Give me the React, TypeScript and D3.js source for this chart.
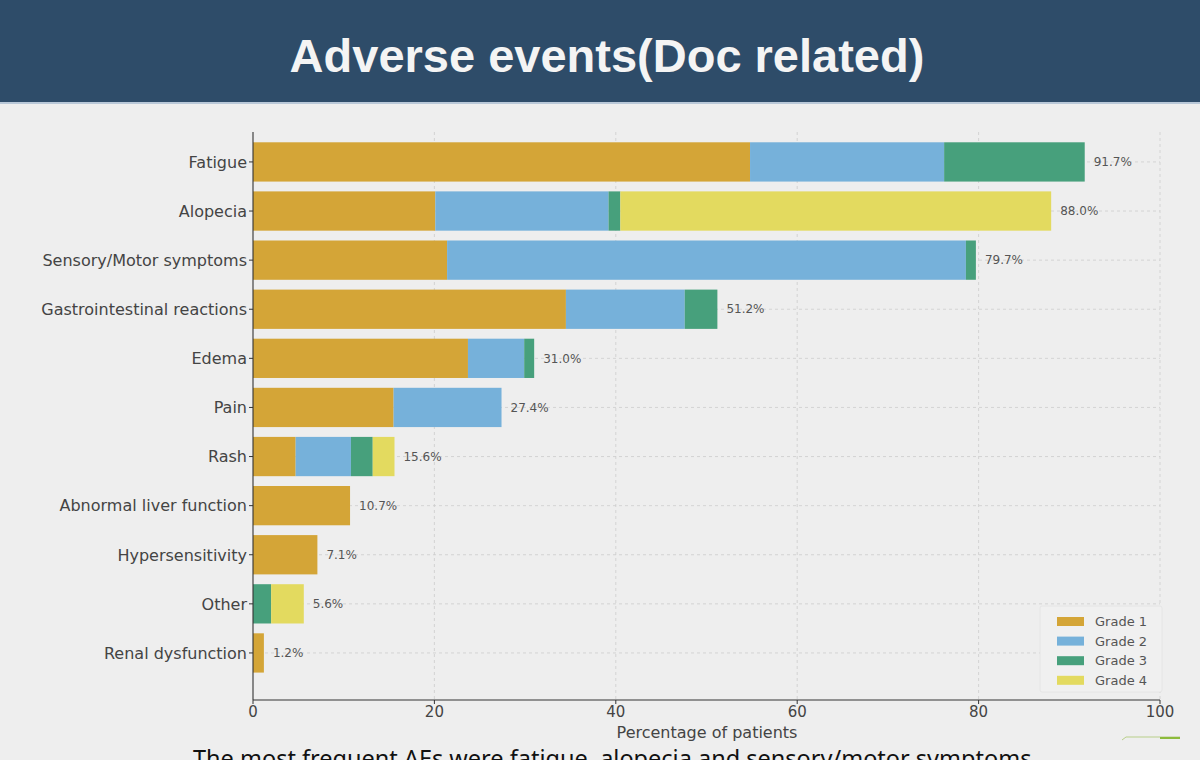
import React from "react";
import * as d3 from "d3";

const categories = [
  "Fatigue",
  "Alopecia",
  "Sensory/Motor symptoms",
  "Gastrointestinal reactions",
  "Edema",
  "Pain",
  "Rash",
  "Abnormal liver function",
  "Hypersensitivity",
  "Other",
  "Renal dysfunction",
];
const grade1 = [54.8, 20.1, 21.4, 34.5, 23.7, 15.5, 4.7, 10.7, 7.1, 0, 1.2];
const grade2 = [21.4, 19.1, 57.2, 13.1, 6.2, 11.9, 6.1, 0, 0, 0, 0];
const grade3 = [15.5, 1.3, 1.1, 3.6, 1.1, 0, 2.4, 0, 0, 2.0, 0];
const grade4 = [0, 47.5, 0, 0, 0, 0, 2.4, 0, 0, 3.6, 0];
const totalLabels = ["91.7%", "88.0%", "79.7%", "51.2%", "31.0%", "27.4%", "15.6%", "10.7%", "7.1%", "5.6%", "1.2%"];
const gradeNames = ["Grade 1", "Grade 2", "Grade 3", "Grade 4"];
const xTicks = [0, 20, 40, 60, 80, 100];

const colors = ["#D4A537", "#76B1DA", "#47A07C", "#E3DA5F"];
const W = 1200;
const H = 760;
const tickFont = "'DejaVu Sans', sans-serif";

export default function App() {
  const x = d3.scaleLinear().domain([0, 100]).range([253, 1160]);
  const y = d3
    .scaleBand<string>()
    .domain(categories)
    .range([132, 700])
    .paddingInner(0.2)
    .paddingOuter(0.384)
    .align(0.273);

  const rows = categories.map((c, i) => ({
    cat: c,
    values: [grade1[i], grade2[i], grade3[i], grade4[i]],
    label: totalLabels[i],
  }));
  const stack = d3
    .stack<any>()
    .keys(["0", "1", "2", "3"])
    .value((d: any, k: string) => d.values[+k]);
  const series = stack(rows);

  const bw = y.bandwidth();

  return (
    <svg
      width={W}
      height={H}
      style={{ position: "absolute", left: 0, top: 0, background: "#EEEEEE" }}
    >
      <rect x={0} y={0} width={W} height={H} fill="#EEEEEE" />
      {/* header */}
      <rect x={0} y={0} width={W} height={103} fill="#2E4C69" />
      <rect x={0} y={102} width={W} height={2} fill="#B9C8D8" />
      <text
        x={607}
        y={72}
        textAnchor="middle"
        fontFamily="'Liberation Sans', Arial, sans-serif"
        fontWeight="bold"
        fontSize={47}
        fill="#F4F4F4"
      >
        Adverse events(Doc related)
      </text>

      {/* grid */}
      {xTicks.slice(1).map((t) => (
        <line
          key={"gx" + t}
          x1={x(t)}
          x2={x(t)}
          y1={132}
          y2={700}
          stroke="#CDCDCD"
          strokeWidth={0.8}
          strokeDasharray="3,3"
        />
      ))}
      {categories.map((c) => (
        <line
          key={"gy" + c}
          x1={x(0)}
          x2={x(100)}
          y1={(y(c) as number) + bw / 2}
          y2={(y(c) as number) + bw / 2}
          stroke="#CDCDCD"
          strokeWidth={0.8}
          strokeDasharray="3,3"
        />
      ))}

      {/* bars */}
      {series.map((s, si) => (
        <g key={"s" + si} fill={colors[si]}>
          {s.map((d: any, i: number) =>
            d[1] - d[0] > 0 ? (
              <rect
                key={i}
                x={x(d[0])}
                y={y(d.data.cat) as number}
                width={x(d[1]) - x(d[0])}
                height={bw}
              />
            ) : null
          )}
        </g>
      ))}

      {/* value labels */}
      {rows.map((r) => {
        const tot = r.values.reduce((a, b) => a + b, 0);
        return (
          <text
            key={"v" + r.cat}
            x={x(tot) + 9}
            y={(y(r.cat) as number) + bw / 2}
            dy="0.35em"
            fontFamily={tickFont}
            fontSize={12}
            fill="#555"
          >
            {r.label}
          </text>
        );
      })}

      {/* axes */}
      <line x1={253} x2={253} y1={132} y2={700} stroke="#333" strokeWidth={1.1} />
      <line x1={253} x2={1160} y1={700} y2={700} stroke="#333" strokeWidth={1.1} />
      {categories.map((c) => {
        const cy = (y(c) as number) + bw / 2;
        return (
          <g key={"yt" + c}>
            <line x1={249} x2={253} y1={cy} y2={cy} stroke="#333" strokeWidth={1} />
            <text
              x={247}
              y={cy}
              dy="0.36em"
              textAnchor="end"
              fontFamily={tickFont}
              fontSize={16}
              fill="#444"
            >
              {c}
            </text>
          </g>
        );
      })}
      {xTicks.map((t) => (
        <g key={"xt" + t}>
          <line x1={x(t)} x2={x(t)} y1={700} y2={704} stroke="#333" strokeWidth={1} />
          <text
            x={x(t)}
            y={717}
            textAnchor="middle"
            fontFamily={tickFont}
            fontSize={15}
            fill="#444"
          >
            {t}
          </text>
        </g>
      ))}
      <text
        x={707}
        y={738}
        textAnchor="middle"
        fontFamily={tickFont}
        fontSize={16}
        fill="#444"
      >
        Percentage of patients
      </text>

      {/* legend */}
      <rect x={1040} y={606} width={122} height={86} fill="#F0F0F0" stroke="#E2E2E2" strokeWidth={0.8} rx={2} />
      {gradeNames.map((g, i) => (
        <g key={"lg" + g}>
          <rect x={1057} y={617 + i * 19.6} width={27} height={9} fill={colors[i]} />
          <text
            x={1095}
            y={621.5 + i * 19.6}
            dy="0.36em"
            fontFamily={tickFont}
            fontSize={13}
            fill="#555"
          >
            {g}
          </text>
        </g>
      ))}

      {/* caption (cut off by slide bottom) */}
      <text
        x={193}
        y={767}
        fontFamily="'Noto Sans', sans-serif"
        fontSize={23.5}
        fill="#111"
      >
        The most frequent AEs were fatigue, alopecia and sensory/motor symptoms
      </text>

      {/* small decoration bottom-right */}
      <path d="M1122,740 L1126,737 L1180,737" fill="none" stroke="#B8CF8A" strokeWidth={1} />
      <line x1={1160} x2={1180} y1={738} y2={738} stroke="#8DBB3C" strokeWidth={2} />
    </svg>
  );
}
